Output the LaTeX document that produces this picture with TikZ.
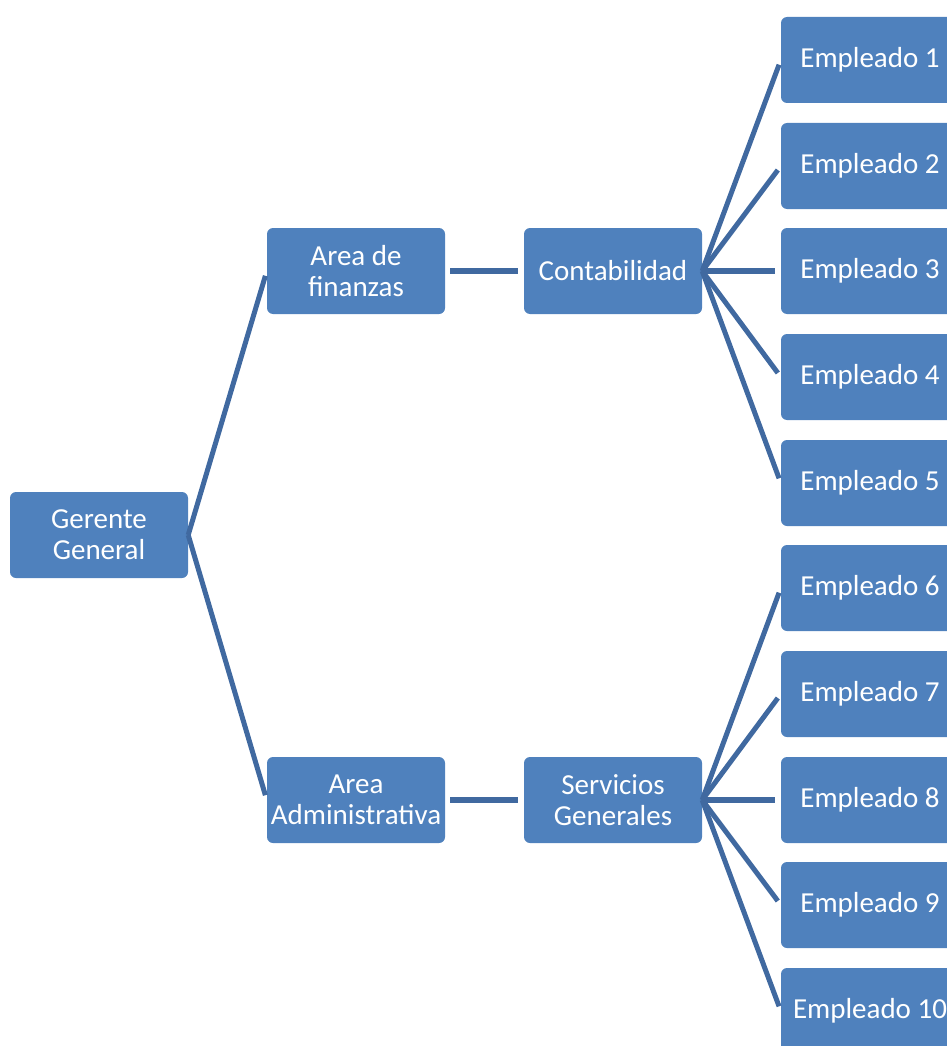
\documentclass[tikz,border=0pt]{standalone}
\usepackage{fontspec}
\setmainfont{Carlito}
\definecolor{cajaazul}{RGB}{79,129,189}
\definecolor{lineaazul}{RGB}{64,105,160}

\begin{document}
\begin{tikzpicture}[x=1pt,y=-1pt,
    caja/.style={draw=none, fill=cajaazul, rounded corners=6pt, minimum width=178pt,
      minimum height=86pt, inner sep=0pt, align=center, text=white,
      font=\fontsize{29}{31}\selectfont},
    rama/.style={draw=lineaazul, line width=5pt, shorten >=5pt},
    tramo/.style={draw=lineaazul, line width=6pt, shorten >=6pt, shorten <=5pt}]
  % Draw page frame
  \useasboundingbox (0,0) rectangle (947,1046);
  \clip (0,0) rectangle (947,1046);

  % boxes
  \node[caja] (gerente) at (99,535) {Gerente\\General};
  \node[caja] (finanzas) at (356,271) {Area de\\finanzas};
  \node[caja] (admin) at (356,800) {Area\\Administrativa};
  \node[caja] (conta) at (613,271) {Contabilidad};
  \node[caja] (servicios) at (613,800) {Servicios\\Generales};

  % employees
  \node[caja] (emp1) at (870,60) {Empleado 1};
  \node[caja] (emp2) at (870,166) {Empleado 2};
  \node[caja] (emp3) at (870,271) {Empleado 3};
  \node[caja] (emp4) at (870,377) {Empleado 4};
  \node[caja] (emp5) at (870,483) {Empleado 5};
  \node[caja] (emp6) at (870,588) {Empleado 6};
  \node[caja] (emp7) at (870,694) {Empleado 7};
  \node[caja] (emp8) at (870,800) {Empleado 8};
  \node[caja] (emp9) at (870,905) {Empleado 9};
  \node[caja] (emp10) at (870,1011) {Empleado 10};

  % connectors
  \draw[rama] (gerente.east) -- (finanzas.west);
  \draw[rama] (gerente.east) -- (admin.west);
  \draw[tramo] (finanzas.east) -- (conta.west);
  \draw[tramo] (admin.east) -- (servicios.west);

  \draw[rama] (conta.east) -- (emp1.west);
  \draw[rama] (conta.east) -- (emp2.west);
  \draw[tramo, shorten <=0pt] (conta.east) -- (emp3.west);
  \draw[rama] (conta.east) -- (emp4.west);
  \draw[rama] (conta.east) -- (emp5.west);

  \draw[rama] (servicios.east) -- (emp6.west);
  \draw[rama] (servicios.east) -- (emp7.west);
  \draw[tramo, shorten <=0pt] (servicios.east) -- (emp8.west);
  \draw[rama] (servicios.east) -- (emp9.west);
  \draw[rama] (servicios.east) -- (emp10.west);
\end{tikzpicture}
\end{document}
